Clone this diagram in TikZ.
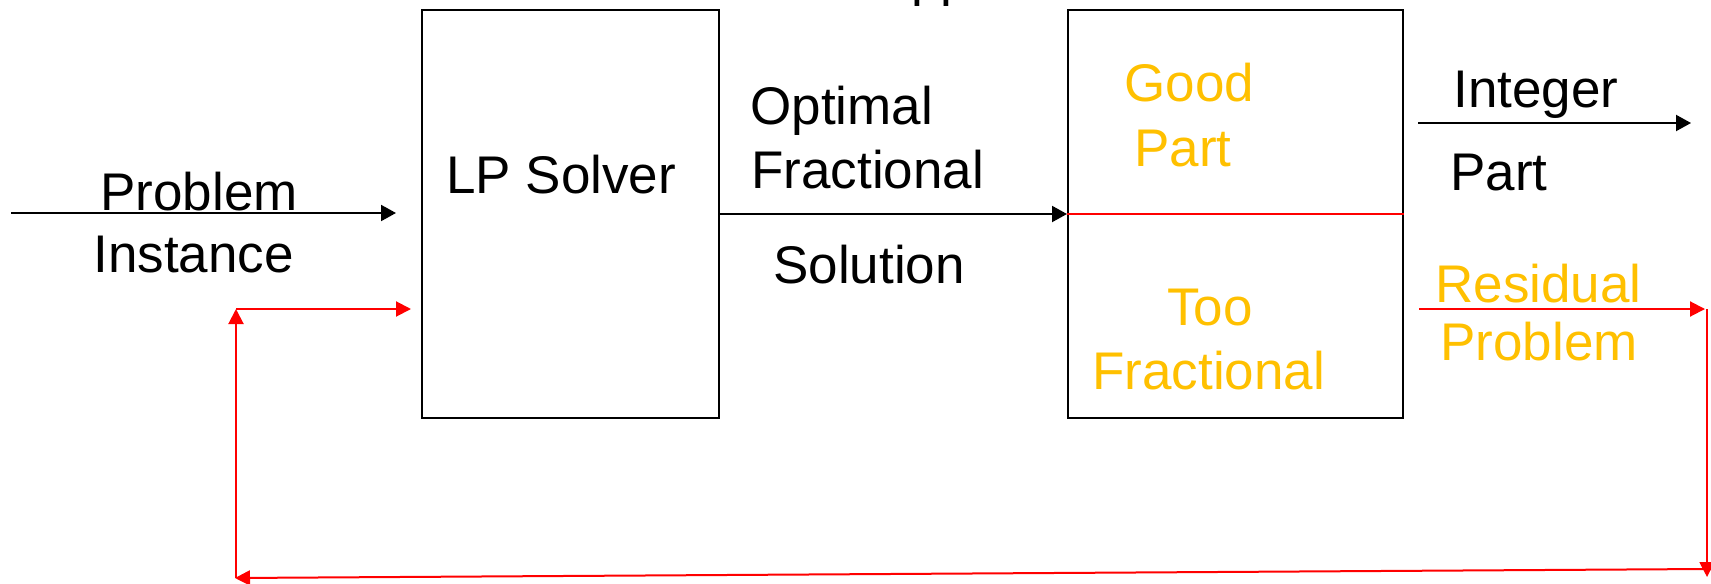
\documentclass[tikz,border=0pt]{standalone}
\usepackage{fontspec}
\setmainfont{Liberation Sans}
\usetikzlibrary{arrows.meta}
\definecolor{amber}{RGB}{255,192,0}
\begin{document}
\begin{tikzpicture}[x=0.5pt,y=-0.5pt,
  lbl/.style={anchor=base west, inner sep=0pt, font=\fontsize{26.5}{30}\selectfont},
  hot/.style={lbl, text=amber},
  box/.style={draw, line width=1pt, inner sep=0pt, anchor=north west, minimum height=204pt},
  arr/.style={line width=1pt, -{Triangle[length=7.5pt,width=8pt]}},
  redarr/.style={line width=1pt, draw=red, -{Triangle[length=7.5pt,width=7.5pt]}}]
\useasboundingbox (0,0) rectangle (1711,583);
\clip (0,0) rectangle (1711,583);

% heading running off the top edge
\node[lbl] (head) at (911,-4) {pp};

% the two blocks
\node[box, minimum width=148.5pt] (lp) at (421,9) {};
\node[box, minimum width=167.5pt] (split) at (1067,9) {};
\draw[red, line width=0.8pt] (split.west) -- (split.east);

% free ends of the connectors
\coordinate (inS) at (11,213);
\coordinate (inE) at (396,213);
\coordinate (intS) at (1418,123);
\coordinate (intE) at (1691,123);
\coordinate (resS) at (1419,309);
\coordinate (resE) at (1705,309);
\coordinate (rTop) at (1707,309);
\coordinate (rBot) at (1707,577);
\coordinate (bR) at (1707,569);
\coordinate (bL) at (235,578);
\coordinate (lBot) at (236,578);
\coordinate (lTop) at (236,309);
\coordinate (fbE) at (411,309);

% black flow
\draw[arr] (inS) -- (inE);
\draw[arr] (lp.east) -- (split.west);
\draw[arr] (intS) -- (intE);

% red feedback loop
\draw[redarr] (resS) -- (resE);
\draw[redarr] (rTop) -- (rBot);
\draw[redarr] (bR) -- (bL);
\draw[redarr] (lBot) -- (lTop);
\draw[redarr] (lTop) -- (fbE);

% labels
\node[lbl] (prob) at (100,210) {Problem};
\node[lbl] (inst) at (93,272) {Instance};
\node[lbl] (lpl) at (446,193) {LP Solver};
\node[lbl] (opt) at (750,125) {Optimal};
\node[lbl] (frac) at (751,188) {Fractional};
\node[lbl] (sol) at (773,283) {Solution};
\node[hot] (good) at (1124,102) {Good};
\node[hot] (gpart) at (1134,166) {Part};
\node[hot] (too) at (1167,325) {Too};
\node[hot] (tfrac) at (1092,389) {Fractional};
\node[lbl] (integ) at (1453,108) {Integer};
\node[lbl] (ipart) at (1450,190) {Part};
\node[hot] (resid) at (1435,302) {Residual};
\node[hot] (rprob) at (1440,360) {Problem};
\end{tikzpicture}
\end{document}
